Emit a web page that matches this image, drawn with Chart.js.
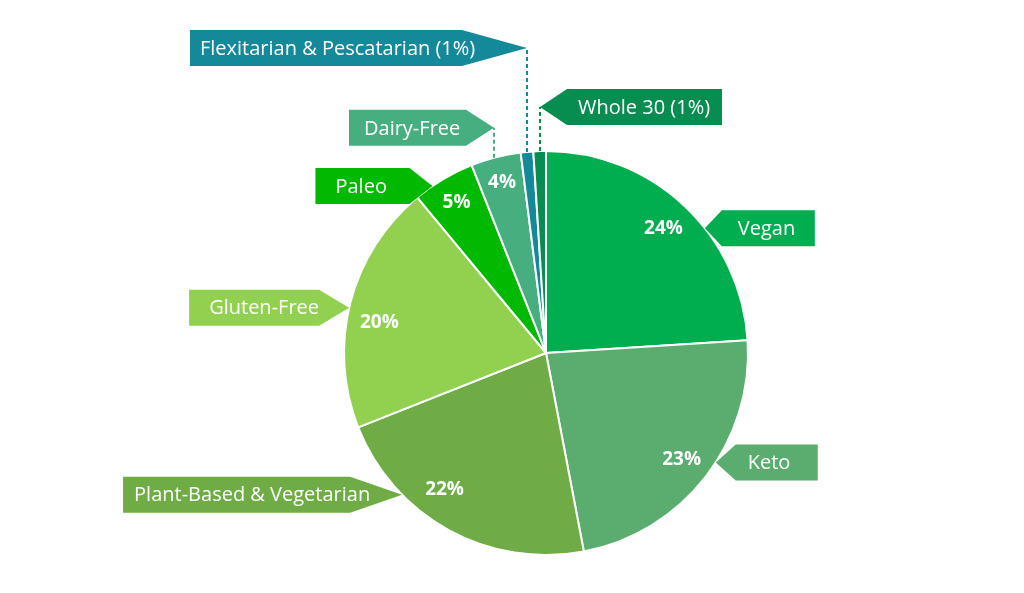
<!DOCTYPE html>
<html>
<head>
<meta charset="utf-8">
<script src="https://cdn.jsdelivr.net/npm/chart.js@4.4.1/dist/chart.umd.min.js"></script>
<style>
  html, body { margin: 0; background: #fff; }
  #wrap { width: 1024px; height: 593px; position: relative; }
</style>
</head>
<body>
<div id="wrap"><canvas id="diets"></canvas></div>
<script>
// data
const diets = ['Vegan', 'Keto', 'Plant-Based & Vegetarian', 'Gluten-Free', 'Paleo', 'Dairy-Free', 'Flexitarian & Pescatarian', 'Whole 30'];
const shares = [24, 23, 22, 20, 5, 4, 1, 1];
const insideLabel = [true, true, true, true, true, true, false, false];
const colors = ['#00AE4F', '#5BAD6F', '#6FAC46', '#92D050', '#00B900', '#46AE7F', '#13899A', '#078D50'];

// callout layout: f = where the pointer meets the rim (fraction of the slice),
// rise = dashed lead length, side of the box, triangle width, box width, text padding
const callouts = [
  { f: 0.60, rise: 0,   side: 'right', tri: 17, w: 93,  pad: 16 },
  { f: 0.44, rise: 0,   side: 'right', tri: 20, w: 82,  pad: 12 },
  { f: 0.71, rise: 0,   side: 'left',  tri: 52, w: 227, pad: 11 },
  { f: 0.48, rise: 0,   side: 'left',  tri: 30, w: 130, pad: 20 },
  { f: 0.30, rise: 0,   side: 'left',  tri: 23, w: 94,  pad: 20 },
  { f: 0.46, rise: 30,  side: 'left',  tri: 28, w: 117, pad: 15 },
  { f: 0.50, rise: 104, side: 'left',  tri: 65, w: 272, pad: 10 },
  { f: 0.53, rise: 44,  side: 'right', tri: 27, w: 155, pad: 11 }
];
// inside % labels: angular fraction and radius ratio
const pctPos = [
  { lf: 0.5, lr: 0.85 }, { lf: 0.5, lr: 0.85 }, { lf: 0.6, lr: 0.84 }, { lf: 0.45, lr: 0.84 },
  { lf: 0.5, lr: 0.87 }, { lf: 0.5, lr: 0.875 }, null, null
];

const calloutPlugin = {
  id: 'callouts',
  afterDatasetsDraw(chart) {
    const ctx = chart.ctx;
    const meta = chart.getDatasetMeta(0);
    ctx.save();
    meta.data.forEach(function (arc, i) {
      const p = arc.getProps(['x', 'y', 'startAngle', 'endAngle', 'outerRadius'], true);
      const c = callouts[i];
      const a = p.startAngle + c.f * (p.endAngle - p.startAngle);
      let ax = p.x + Math.cos(a) * p.outerRadius;
      const ay = p.y + Math.sin(a) * p.outerRadius;
      if (c.rise) ax = Math.round(ax); // crisp vertical lead
      const tx = ax;
      const ty = ay - c.rise;
      if (c.rise) {
        ctx.beginPath();
        ctx.setLineDash([4, 3]);
        ctx.lineWidth = 2;
        ctx.strokeStyle = colors[i];
        ctx.moveTo(ax, ay);
        ctx.lineTo(tx, ty);
        ctx.stroke();
        ctx.setLineDash([]);
      }
      const h = 36, top = ty - h / 2, bot = ty + h / 2;
      let left;
      ctx.beginPath();
      if (c.side === 'left') {
        const r = tx - c.tri;
        left = r - c.w;
        ctx.moveTo(left, top); ctx.lineTo(r, top); ctx.lineTo(tx, ty); ctx.lineTo(r, bot); ctx.lineTo(left, bot);
      } else {
        left = tx + c.tri;
        const r = left + c.w;
        ctx.moveTo(r, top); ctx.lineTo(left, top); ctx.lineTo(tx, ty); ctx.lineTo(left, bot); ctx.lineTo(r, bot);
      }
      ctx.closePath();
      ctx.fillStyle = colors[i];
      ctx.fill();
      const text = insideLabel[i] ? diets[i] : diets[i] + ' (' + shares[i] + '%)';
      ctx.fillStyle = '#fff';
      ctx.font = '20px "Open Sans"';
      ctx.textAlign = 'left';
      ctx.textBaseline = 'middle';
      ctx.fillText(text, left + c.pad, ty + 1);

      const q = pctPos[i];
      if (insideLabel[i] && q) {
        const m = p.startAngle + q.lf * (p.endAngle - p.startAngle);
        const rr = p.outerRadius * q.lr;
        ctx.font = 'bold 19px "Open Sans"';
        ctx.textAlign = 'center';
        ctx.fillText(shares[i] + '%', p.x + Math.cos(m) * rr, p.y + Math.sin(m) * rr + 1);
      }
    });
    ctx.restore();
  }
};

new Chart(document.getElementById('diets'), {
  type: 'pie',
  data: {
    labels: diets,
    datasets: [{
      data: shares,
      backgroundColor: colors,
      borderColor: '#fff',
      borderWidth: 2
    }]
  },
  options: {
    responsive: true,
    maintainAspectRatio: false,
    animation: false,
    radius: 202,
    layout: { padding: { left: 344, right: 276, top: 151, bottom: 38 } },
    plugins: { legend: { display: false }, tooltip: { enabled: false } }
  },
  plugins: [calloutPlugin]
});
</script>
</body>
</html>
